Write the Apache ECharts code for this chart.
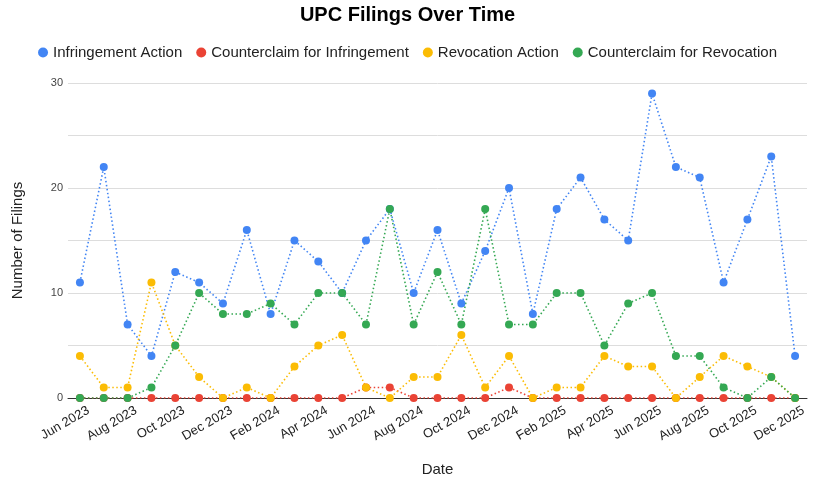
<!DOCTYPE html>
<html>
<head>
<meta charset="utf-8">
<script src="https://cdn.jsdelivr.net/npm/echarts@6/dist/echarts.min.js"></script>
<style>html,body{margin:0;padding:0;background:#fff}#c{width:815px;height:485px}</style>
</head>
<body>
<div id="c"></div>
<script>
const categories = ['Jun 2023','Jul 2023','Aug 2023','Sep 2023','Oct 2023','Nov 2023','Dec 2023',
  'Jan 2024','Feb 2024','Mar 2024','Apr 2024','May 2024','Jun 2024','Jul 2024','Aug 2024','Sep 2024','Oct 2024','Nov 2024','Dec 2024',
  'Jan 2025','Feb 2025','Mar 2025','Apr 2025','May 2025','Jun 2025','Jul 2025','Aug 2025','Sep 2025','Oct 2025','Nov 2025','Dec 2025'];
const infringementAction = [11,22,7,4,12,11,9,16,8,15,13,10,15,18,10,16,9,14,20,8,18,21,17,15,29,22,21,11,17,23,4];
const counterclaimInfringement = [0,0,0,0,0,0,0,0,0,0,0,0,1,1,0,0,0,0,1,0,0,0,0,0,0,0,0,0,0,0,0];
const revocationAction = [4,1,1,11,5,2,0,1,0,3,5,6,1,0,2,2,6,1,4,0,1,1,4,3,3,0,2,4,3,2,0];
const counterclaimRevocation = [0,0,0,1,5,10,8,8,9,7,10,10,7,18,7,12,7,18,7,7,10,10,5,9,10,4,4,1,0,2,0];
const yTickLabels = [0,10,20,30];

const font = '"Liberation Sans", Arial, sans-serif';
function mk(name, data, color) {
  return {
    name, type: 'line', data,
    symbol: 'circle', symbolSize: 8,
    itemStyle: { color },
    lineStyle: { color, width: 1.6, type: [1.5, 2.5] },
    emphasis: { disabled: true }
  };
}
const chart = echarts.init(document.getElementById('c'));
chart.setOption({
  animation: false,
  textStyle: { fontFamily: font },
  title: {
    text: 'UPC Filings Over Time', left: 'center', top: 0,
    textStyle: { fontFamily: font, fontSize: 20, fontWeight: 'bold', color: '#000' }
  },
  legend: {
    top: 40, left: 'center', icon: 'circle', itemWidth: 10, itemHeight: 10, itemGap: 14,
    textStyle: { fontFamily: font, fontSize: 15, color: '#222' }
  },
  grid: { left: 68, right: 8, top: 83, bottom: 87, outerBoundsMode: 'none' },
  xAxis: {
    type: 'category', data: categories, boundaryGap: true,
    name: 'Date', nameLocation: 'middle', nameGap: 64,
    nameTextStyle: { fontFamily: font, fontSize: 15, color: '#222' },
    axisLine: { show: true, lineStyle: { color: '#333', width: 1 } },
    axisTick: { show: false },
    axisLabel: { interval: 1, rotate: 30, fontSize: 13, color: '#222', margin: 9,
      verticalAlign: 'top', padding: [0, -6, 0, 0], fontFamily: font }
  },
  yAxis: {
    type: 'value', min: 0, max: 30, interval: 5,
    name: 'Number of Filings', nameLocation: 'middle', nameGap: 43,
    nameTextStyle: { fontFamily: font, fontSize: 15, color: '#222' },
    axisLine: { show: false }, axisTick: { show: false },
    axisLabel: { fontSize: 11, color: '#444', margin: 5, fontFamily: font,
      formatter: v => yTickLabels.includes(v) ? String(v) : '' },
    splitLine: { lineStyle: { color: '#ddd', width: 1 } }
  },
  series: [
    mk('Infringement Action', infringementAction, '#4285F4'),
    mk('Counterclaim for Infringement', counterclaimInfringement, '#EA4335'),
    mk('Revocation Action', revocationAction, '#FBBC04'),
    mk('Counterclaim for Revocation', counterclaimRevocation, '#34A853')
  ]
});
</script>
</body>
</html>
